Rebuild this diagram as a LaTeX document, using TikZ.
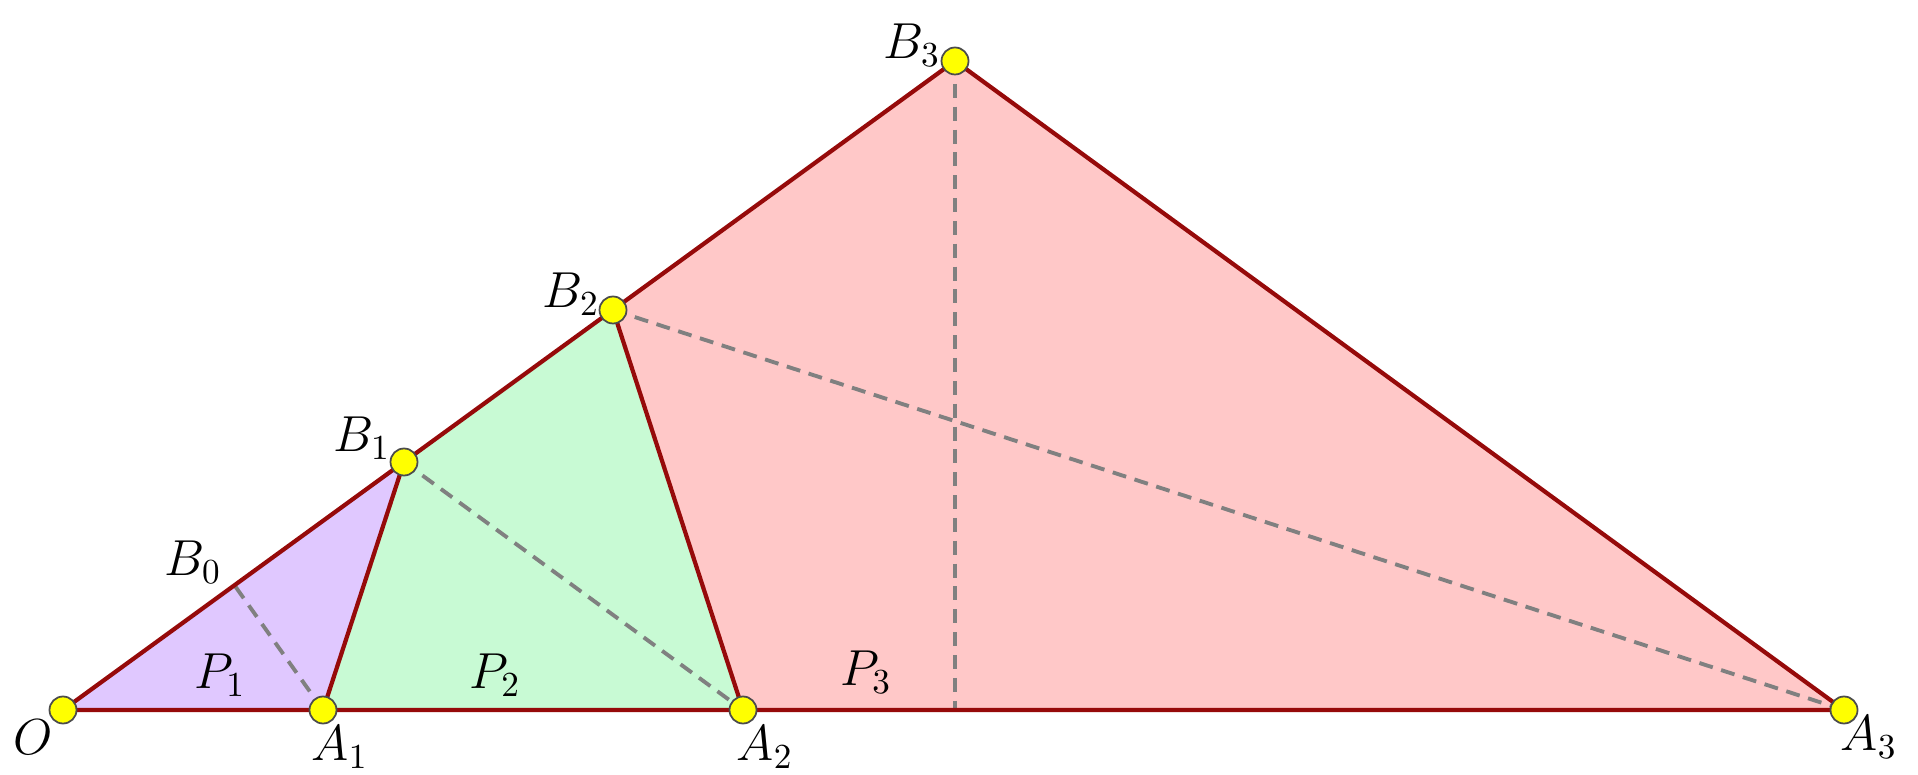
\documentclass[tikz,border=0pt]{standalone}
\usepackage{amsmath}
\definecolor{edgered}{RGB}{150,10,10}
\definecolor{fillone}{RGB}{224,200,255}
\definecolor{filltwo}{RGB}{200,250,212}
\definecolor{fillthree}{RGB}{255,200,200}
\definecolor{ptyellow}{RGB}{255,255,0}
\tikzset{
  edge/.style={edgered,line width=1.2pt,line join=round},
  aux/.style={gray,line width=1.1pt,dash pattern=on 4pt off 2.5pt},
  pt/.style={circle,draw=black!70,fill=ptyellow,line width=0.5pt,minimum size=0.27cm,inner sep=0pt},
  lbl/.style={font=\fontsize{14}{16}\selectfont,inner sep=0pt}
}
\begin{document}
\begin{tikzpicture}

		\useasboundingbox (0,0) rectangle (19.18,7.74);

		\coordinate (O) at (0.63,0.64);
		\coordinate (A1) at (3.23,0.64);
		\coordinate (A2) at (7.43,0.64);
		\coordinate (A3) at (18.44,0.64);
		\coordinate (B0) at (2.35,1.88);
		\coordinate (B1) at (4.04,3.12);
		\coordinate (B2) at (6.13,4.64);
		\coordinate (B3) at (9.55,7.13);
		\coordinate (H3) at (9.55,0.64);

		% P1
		\fill[fillone] (O) -- (A1) -- (B1) -- cycle;
		% P2
		\fill[filltwo] (A1) -- (A2) -- (B2) -- (B1) -- cycle;
		% P3
		\fill[fillthree] (A2) -- (A3) -- (B3) -- (B2) -- cycle;

		%---------------------
		% dashed lines
		%---------------------
		\draw[aux] (A1) -- (B0);
		\draw[aux] (B1) -- (A2);
		\draw[aux] (B2) -- (A3);
		\draw[aux] (B3) -- (H3);

		%---------------------
		% edges
		%---------------------
		\draw[edge] (O) -- (A3) -- (B3) -- cycle;
		\draw[edge] (A1) -- (B1);
		\draw[edge] (A2) -- (B2);

		% points
		\node[pt] (pO) at (O) {};
		\node[pt] (pA1) at (A1) {};
		\node[pt] (pA2) at (A2) {};
		\node[pt] (pA3) at (A3) {};
		\node[pt] (pB1) at (B1) {};
		\node[pt] (pB2) at (B2) {};
		\node[pt] (pB3) at (B3) {};

		% labels
		\node[lbl] (lO) at (0.33,0.37) {$O$};
		\node[lbl] (lA1) at (3.40,0.27) {$A_1$};
		\node[lbl] (lA2) at (7.65,0.27) {$A_2$};
		\node[lbl] (lA3) at (18.69,0.37) {$A_3$};
		\node[lbl] (lB0) at (1.93,2.12) {$B_0$};
		\node[lbl] (lB1) at (3.62,3.36) {$B_1$};
		\node[lbl] (lB2) at (5.71,4.80) {$B_2$};
		\node[lbl] (lB3) at (9.12,7.29) {$B_3$};
		\node[lbl] (lP1) at (2.20,0.99) {$P_1$};
		\node[lbl] (lP2) at (4.95,0.99) {$P_2$};
		\node[lbl] (lP3) at (8.66,1.02) {$P_3$};

\end{tikzpicture}
\end{document}
